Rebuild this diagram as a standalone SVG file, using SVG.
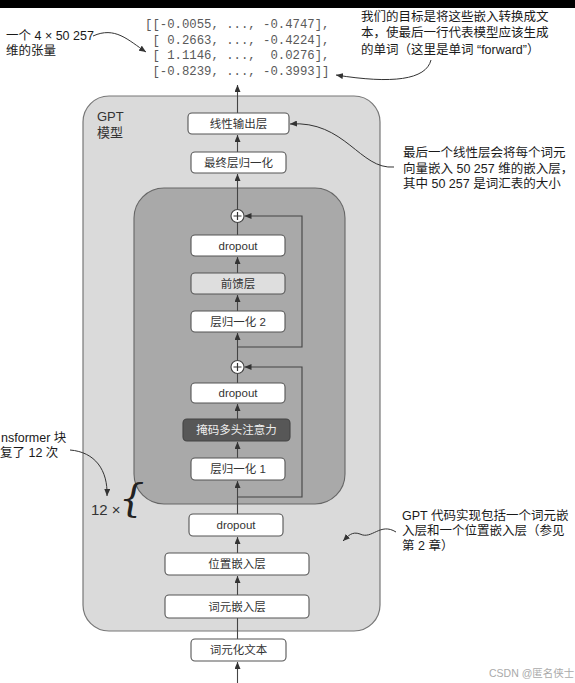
<svg xmlns="http://www.w3.org/2000/svg" width="575" height="683" viewBox="0 0 575 683">
<defs>
<marker id="ah" markerWidth="7" markerHeight="6" refX="7" refY="3" orient="auto" markerUnits="userSpaceOnUse"><path d="M0,0 L7,3 L0,6 z" fill="#333"/></marker>
<style>
.box{fill:#fff;stroke:#555;stroke-width:1.1}
.lbl{font-family:"Liberation Sans","Noto Sans CJK SC",sans-serif;font-size:11.5px;fill:#333;text-anchor:middle}
.ann{font-family:"Liberation Sans","Noto Sans CJK SC",sans-serif;font-size:12.5px;fill:#1a1a1a}
.mono{font-family:"Liberation Mono",monospace;font-size:12.3px;fill:#5a5a5a;white-space:pre}
.ln{fill:none;stroke:#444;stroke-width:1.1}
.cv{fill:none;stroke:#333;stroke-width:1}
</style>
</defs>
<rect x="0" y="0" width="575" height="683" fill="#fff"/>
<rect x="0" y="0" width="575" height="8" fill="#000"/>

<g id="gpt-model">
<rect x="83" y="96" width="297" height="535" rx="26" fill="#dadada" stroke="#777" stroke-width="1.2"/>
<text x="97" y="121" font-family="Liberation Sans,Noto Sans CJK SC,sans-serif" font-size="13" fill="#333">GPT</text>
<text x="97" y="137" font-family="Liberation Sans,Noto Sans CJK SC,sans-serif" font-size="13" fill="#333">模型</text>
</g>
<g id="transformer-block">
<rect x="134" y="188" width="211" height="316" rx="30" fill="#a9a9a9" stroke="#666" stroke-width="1.1"/>
</g>

<g id="connectors">
<line class="ln" x1="237.5" y1="683" x2="237.5" y2="662" marker-end="url(#ah)"/>
<line class="ln" x1="237.5" y1="639" x2="237.5" y2="618"/>
<line class="ln" x1="237.5" y1="595" x2="237.5" y2="576" marker-end="url(#ah)"/>
<line class="ln" x1="237.5" y1="553" x2="237.5" y2="537" marker-end="url(#ah)"/>
<line class="ln" x1="237.5" y1="514" x2="237.5" y2="481" marker-end="url(#ah)"/>
<line class="ln" x1="237.5" y1="458" x2="237.5" y2="442" marker-end="url(#ah)"/>
<line class="ln" x1="237.5" y1="419" x2="237.5" y2="404" marker-end="url(#ah)"/>
<line class="ln" x1="237.5" y1="383" x2="237.5" y2="373.5"/>
<line class="ln" x1="237.5" y1="360.5" x2="237.5" y2="333" marker-end="url(#ah)"/>
<line class="ln" x1="237.5" y1="311" x2="237.5" y2="295" marker-end="url(#ah)"/>
<line class="ln" x1="237.5" y1="273" x2="237.5" y2="257" marker-end="url(#ah)"/>
<line class="ln" x1="237.5" y1="235" x2="237.5" y2="222.5"/>
<line class="ln" x1="237.5" y1="209.5" x2="237.5" y2="174" marker-end="url(#ah)"/>
<line class="ln" x1="237.5" y1="152" x2="237.5" y2="135" marker-end="url(#ah)"/>
<line class="ln" x1="237.5" y1="113" x2="237.5" y2="85" marker-end="url(#ah)"/>
<polyline class="ln" points="237.5,497 302,497 302,367 244.5,367" marker-end="url(#ah)"/>
<polyline class="ln" points="237.5,347 302,347 302,216 244.5,216" marker-end="url(#ah)"/>
<path class="cv" d="M93,36 C115,26 128,40 146,52" marker-end="url(#ah)"/>
<path class="cv" d="M431,60 C426,80 392,84 336,75" marker-end="url(#ah)"/>
<path class="cv" d="M394,167 C360,170 345,120 290,124" marker-end="url(#ah)"/>
<path class="cv" d="M396,532 C380,522 372,540 360,534 C352,531 348,536 343,541" marker-end="url(#ah)"/>
<path class="cv" d="M70,450 C95,452 108,470 107,496" marker-end="url(#ah)"/>
</g>

<g id="node-linear-out"><rect class="box" x="188" y="113" width="101" height="21" rx="4"/><text class="lbl" x="238.5" y="127.5">线性输出层</text></g>
<g id="node-final-norm"><rect class="box" x="191" y="152" width="95" height="21" rx="4"/><text class="lbl" x="238.5" y="166.5">最终层归一化</text></g>
<g id="node-add-2"><circle cx="237.5" cy="216" r="6.5" fill="#fff" stroke="#444" stroke-width="1.1"/><path d="M233.5,216 H241.5 M237.5,212 V220" stroke="#333" stroke-width="1.2"/></g>
<g id="node-dropout-b"><rect class="box" x="191" y="235" width="94" height="21" rx="4"/><text class="lbl" x="238" y="249.5">dropout</text></g>
<g id="node-ffn"><rect class="box" x="191" y="273" width="94" height="21" rx="4" style="fill:#dedede"/><text class="lbl" x="238" y="287.5">前馈层</text></g>
<g id="node-norm2"><rect class="box" x="191" y="311" width="94" height="21" rx="4"/><text class="lbl" x="238" y="325.5">层归一化 2</text></g>
<g id="node-add-1"><circle cx="237.5" cy="367" r="6.5" fill="#fff" stroke="#444" stroke-width="1.1"/><path d="M233.5,367 H241.5 M237.5,363 V371" stroke="#333" stroke-width="1.2"/></g>
<g id="node-dropout-a"><rect class="box" x="191" y="383" width="94" height="20" rx="4"/><text class="lbl" x="238" y="397">dropout</text></g>
<g id="node-mha"><rect x="183" y="419" width="107" height="22" rx="4" fill="#575757" stroke="#444" stroke-width="1.1"/><text class="lbl" x="236.5" y="434" style="fill:#eee">掩码多头注意力</text></g>
<g id="node-norm1"><rect class="box" x="191" y="458" width="94" height="22" rx="4"/><text class="lbl" x="238" y="473">层归一化 1</text></g>
<g id="node-dropout-emb"><rect class="box" x="189" y="514" width="94" height="22" rx="4"/><text class="lbl" x="236" y="529">dropout</text></g>
<g id="node-pos-emb"><rect class="box" x="165" y="553" width="144" height="22" rx="4"/><text class="lbl" x="237" y="568">位置嵌入层</text></g>
<g id="node-tok-emb"><rect class="box" x="165" y="595" width="144" height="23" rx="4"/><text class="lbl" x="237" y="610.5">词元嵌入层</text></g>
<g id="node-tokenized"><rect class="box" x="191" y="639" width="95" height="22" rx="4"/><text class="lbl" x="238.5" y="654">词元化文本</text></g>

<g id="output-tensor">
<text class="mono" x="145" y="28" xml:space="preserve">[[-0.0055, ..., -0.4747],</text>
<text class="mono" x="145" y="43.5" xml:space="preserve"> [ 0.2663, ..., -0.4224],</text>
<text class="mono" x="145" y="59" xml:space="preserve"> [ 1.1146, ...,  0.0276],</text>
<text class="mono" x="145" y="74.5" xml:space="preserve"> [-0.8239, ..., -0.3993]]</text>
</g>

<g id="ann-tensor">
<text class="ann" x="6" y="39.5">一个 4 × 50 257</text>
<text class="ann" x="6" y="54.5">维的张量</text>
</g>
<g id="ann-goal">
<text class="ann" x="361" y="21">我们的目标是将这些嵌入转换成文</text>
<text class="ann" x="361" y="37">本，使最后一行代表模型应该生成</text>
<text class="ann" x="361" y="54">的单词（这里是单词 “forward”）</text>
</g>
<g id="ann-linear">
<text class="ann" x="403" y="157">最后一个线性层会将每个词元</text>
<text class="ann" x="403" y="173">向量嵌入 50 257 维的嵌入层，</text>
<text class="ann" x="403" y="188">其中 50 257 是词汇表的大小</text>
</g>
<g id="ann-emb">
<text class="ann" x="402" y="519.5">GPT 代码实现包括一个词元嵌</text>
<text class="ann" x="402" y="535">入层和一个位置嵌入层（参见</text>
<text class="ann" x="402" y="550">第 2 章）</text>
</g>
<g id="ann-repeat">
<text class="ann" x="1" y="442">nsformer 块</text>
<text class="ann" x="0" y="457">复了 12 次</text>
<text x="91" y="515" font-family="Liberation Sans,sans-serif" font-size="15" fill="#333">12 ×</text>
<text x="119" y="511" font-family="DejaVu Serif,serif" font-size="40" font-style="italic" fill="#222">{</text>
</g>
<text x="489" y="677" font-family="Liberation Sans,Noto Sans CJK SC,sans-serif" font-size="10.5" fill="#aaa">CSDN @匿名侠士</text>
</svg>
